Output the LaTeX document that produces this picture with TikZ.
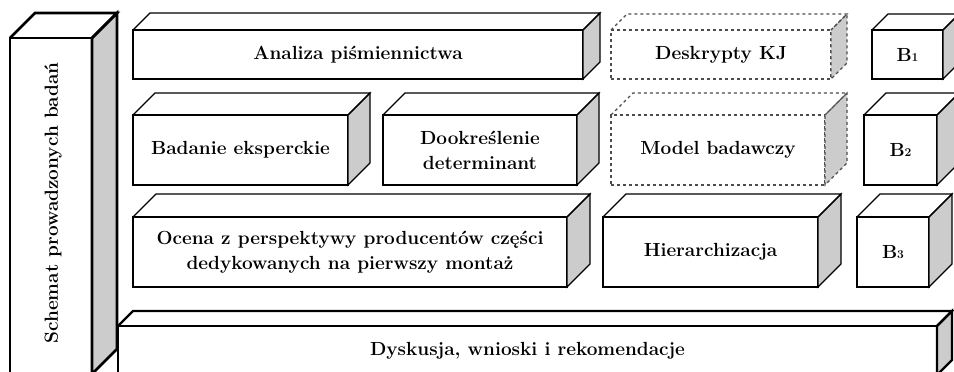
\documentclass[tikz,border=0pt]{standalone}
\newcommand\mainfnt{\fontsize{19}{25}\selectfont\bfseries}
\newcommand\subfnt{\fontsize{12}{12}\selectfont}
\tikzset{
  edge/.style={line width=1.15pt, line join=miter},
  front/.style={draw, edge, fill=white, inner sep=0pt, outer sep=0pt, align=center, font=\mainfnt},
  sideface/.style={fill=black!20},
  dashedbox/.style={dashed, draw=black!70},
  heavy/.style={line width=2.8pt},
  medium/.style={line width=2.3pt},
}
% name, x1, y1, x2, y2, depth, style, text
\newcommand\cub[8]{%
  \node[front,#7,minimum width={(#4)-(#2)},minimum height={(#5)-(#3)}] (#1) at ({((#2)+(#4))/2},{((#3)+(#5))/2}) {#8};
  \filldraw[edge,sideface,#7] (#1.north east) -- ++(#6,-#6) -- ([shift={(#6,-#6)}]#1.south east) -- (#1.south east) -- cycle;
  \draw[edge,#7] (#1.north west) -- ++(#6,-#6) -- ([shift={(#6,-#6)}]#1.north east) -- (#1.north east);
}
\begin{document}
\begin{tikzpicture}[x=1pt,y=-1pt]
\useasboundingbox (0,0) rectangle (954,372);
\clip (0,0) rectangle (954,372);
\fill[white] (0,0) rectangle (954,372);
% left column
\cub{left}{10}{38}{92}{374}{25}{heavy}{}
\node[font=\mainfnt, rotate=90] (lefttxt) at (53,203) {Schemat prowadzonych badań};
% bottom bar
\cub{dysk}{118}{326}{937}{375}{15}{medium}{Dyskusja, wnioski i rekomendacje}
% row 1
\cub{anal}{133}{30}{583}{79}{17}{}{Analiza piśmiennictwa}
\cub{desk}{611}{30}{831}{79}{16}{dashedbox}{Deskrypty KJ}
\cub{b1}{872}{30}{943}{79}{16}{}{B{\subfnt 1}}
% row 2
\cub{bad}{133}{115}{348}{185}{22}{}{Badanie eksperckie}
\cub{dook}{383}{115}{577}{185}{22}{}{Dookreślenie\\determinant}
\cub{model}{611}{115}{825}{185}{22}{dashedbox}{Model badawczy}
\cub{b2}{864}{115}{937}{185}{22}{}{B{\subfnt 2}}
% row 3
\cub{ocena}{133}{217}{567}{287}{23}{}{Ocena z perspektywy producentów części\\dedykowanych na pierwszy montaż}
\cub{hier}{603}{217}{818}{287}{23}{}{Hierarchizacja}
\cub{b3}{857}{217}{929}{287}{23}{}{B{\subfnt 3}}
\end{tikzpicture}
\end{document}
